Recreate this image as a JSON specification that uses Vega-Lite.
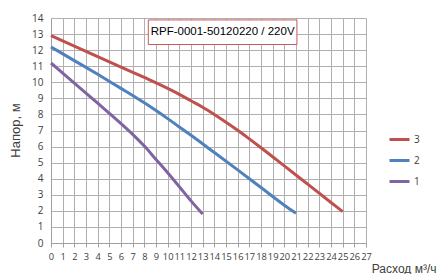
{
  "$schema": "https://vega.github.io/schema/vega-lite/v6.json",
  "width": 315,
  "height": 225,
  "autosize": "none",
  "padding": {"left": 51, "top": 18, "right": 72, "bottom": 31},
  "background": "white",
  "config": {
    "view": {"stroke": null},
    "font": "Liberation Sans",
    "axis": {
      "labelFont": "Open Sans",
      "labelFontSize": 10,
      "labelColor": "#404040",
      "titleColor": "#404040",
      "titleFontWeight": "normal",
      "gridColor": "#b0b0b0",
      "gridOpacity": 1,
      "domainColor": "#a0a0a0",
      "tickColor": "#a0a0a0"
    },
    "axisX": {
      "tickCount": 27,
      "labelFlush": false,
      "labelOverlap": false,
      "labelFontSize": 9.3,
      "tickSize": 4,
      "labelPadding": 5,
      "titleFontSize": 12,
      "titleAnchor": "end",
      "titleAlign": "right",
      "titleBaseline": "middle",
      "titleX": 385,
      "titleY": 25
    },
    "axisY": {
      "tickCount": 14,
      "ticks": false,
      "labelPadding": 8,
      "titleFontSize": 13,
      "titleX": -36,
      "titleY": 112,
      "titleAlign": "center",
      "titleBaseline": "middle",
      "titleAngle": -90
    }
  },
  "datasets": {
    "curves": [
      {"q": 0, "h": 12.9, "s": "3"},
      {"q": 2, "h": 12.25, "s": "3"},
      {"q": 4, "h": 11.6, "s": "3"},
      {"q": 6, "h": 10.95, "s": "3"},
      {"q": 8, "h": 10.3, "s": "3"},
      {"q": 10, "h": 9.62, "s": "3"},
      {"q": 11, "h": 9.25, "s": "3"},
      {"q": 12, "h": 8.85, "s": "3"},
      {"q": 13, "h": 8.45, "s": "3"},
      {"q": 14, "h": 8.0, "s": "3"},
      {"q": 15, "h": 7.52, "s": "3"},
      {"q": 16, "h": 7.02, "s": "3"},
      {"q": 17, "h": 6.48, "s": "3"},
      {"q": 18, "h": 5.93, "s": "3"},
      {"q": 20, "h": 4.8, "s": "3"},
      {"q": 22, "h": 3.66, "s": "3"},
      {"q": 24, "h": 2.52, "s": "3"},
      {"q": 25, "h": 1.95, "s": "3"},
      {"q": 0, "h": 12.2, "s": "2"},
      {"q": 2, "h": 11.35, "s": "2"},
      {"q": 4, "h": 10.5, "s": "2"},
      {"q": 6, "h": 9.62, "s": "2"},
      {"q": 7, "h": 9.18, "s": "2"},
      {"q": 8, "h": 8.72, "s": "2"},
      {"q": 9, "h": 8.24, "s": "2"},
      {"q": 10, "h": 7.74, "s": "2"},
      {"q": 11, "h": 7.22, "s": "2"},
      {"q": 12, "h": 6.7, "s": "2"},
      {"q": 14, "h": 5.63, "s": "2"},
      {"q": 16, "h": 4.55, "s": "2"},
      {"q": 18, "h": 3.45, "s": "2"},
      {"q": 20, "h": 2.35, "s": "2"},
      {"q": 21, "h": 1.85, "s": "2"},
      {"q": 0, "h": 11.2, "s": "1"},
      {"q": 2, "h": 9.95, "s": "1"},
      {"q": 4, "h": 8.7, "s": "1"},
      {"q": 6, "h": 7.43, "s": "1"},
      {"q": 7, "h": 6.76, "s": "1"},
      {"q": 8, "h": 6.03, "s": "1"},
      {"q": 9, "h": 5.2, "s": "1"},
      {"q": 10, "h": 4.37, "s": "1"},
      {"q": 11, "h": 3.5, "s": "1"},
      {"q": 12, "h": 2.62, "s": "1"},
      {"q": 13, "h": 1.8, "s": "1"}
    ],
    "box": [
      {"x1": 8.34, "x2": 21.08, "y1": 12.35, "y2": 13.88, "xc": 14.71, "yc": 13.1, "label": "RPF-0001-50120220 / 220V"}
    ]
  },
  "layer": [
    {
      "data": {"name": "curves"},
      "mark": {"type": "line", "strokeWidth": 3, "strokeCap": "butt", "interpolate": "monotone"},
      "encoding": {
        "x": {
          "field": "q", "type": "quantitative",
          "title": "Расход м³/ч",
          "scale": {"domain": [0, 27], "nice": false, "zero": false}
        },
        "y": {
          "field": "h", "type": "quantitative",
          "title": "Напор, м",
          "scale": {"domain": [0, 14], "nice": false}
        },
        "color": {
          "field": "s", "type": "nominal",
          "scale": {"domain": ["3", "2", "1"], "range": ["#c0504d", "#4f81bd", "#8064a2"]},
          "legend": {
            "title": null,
            "orient": "none",
            "legendX": 337,
            "legendY": 110,
            "symbolType": "stroke",
            "symbolSize": 400,
            "symbolStrokeWidth": 3,
            "rowPadding": 3,
            "labelOffset": 3,
            "labelFontSize": 10,
            "labelFont": "Open Sans",
            "labelColor": "#404040"
          }
        }
      }
    },
    {
      "data": {"name": "box"},
      "mark": {"type": "rect", "fill": "white", "stroke": "#c9595a", "strokeWidth": 1},
      "encoding": {
        "x": {"field": "x1", "type": "quantitative", "title": "Расход м³/ч"},
        "x2": {"field": "x2"},
        "y": {"field": "y1", "type": "quantitative", "title": "Напор, м"},
        "y2": {"field": "y2"}
      }
    },
    {
      "data": {"name": "box"},
      "mark": {"type": "text", "font": "Liberation Sans", "fontSize": 11.5, "color": "#000000", "align": "center", "baseline": "middle"},
      "encoding": {
        "x": {"field": "xc", "type": "quantitative", "title": "Расход м³/ч"},
        "y": {"field": "yc", "type": "quantitative", "title": "Напор, м"},
        "text": {"field": "label"}
      }
    }
  ]
}
